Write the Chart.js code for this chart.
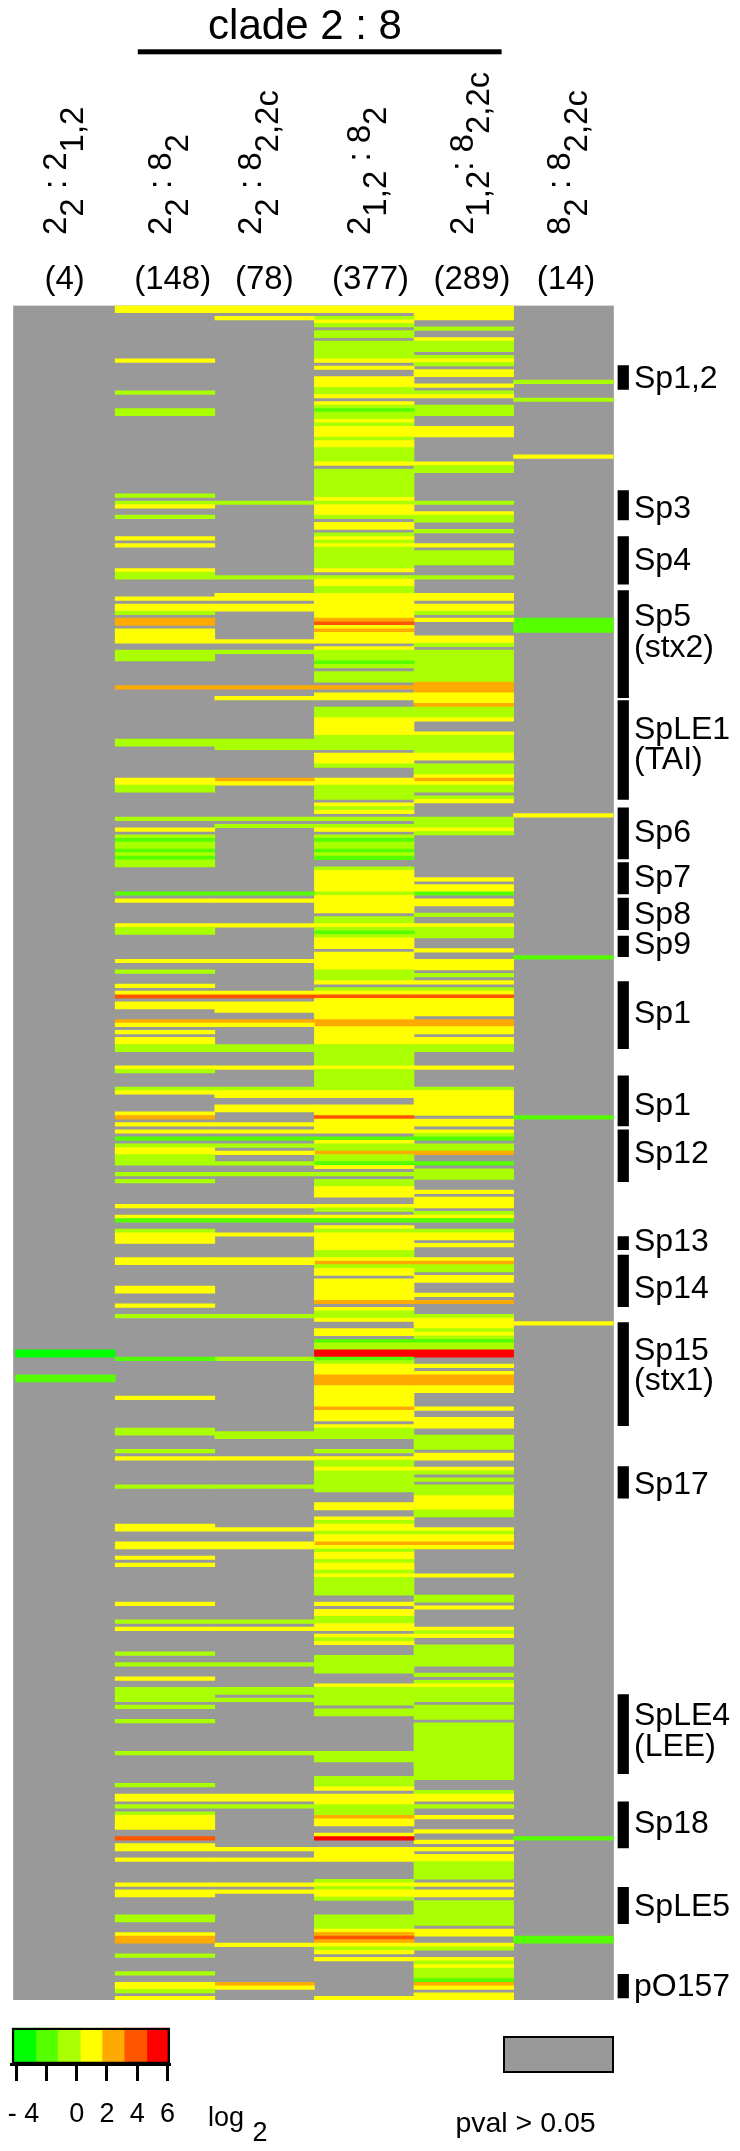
<!DOCTYPE html>
<html>
<head>
<meta charset="utf-8">
<title>clade 2 : 8</title>
<script src="https://cdn.jsdelivr.net/npm/chart.js@4/dist/chart.umd.min.js"></script>
<style>
  html, body { margin: 0; padding: 0; background: #fff; }
  #page { position: relative; width: 740px; height: 2151px; overflow: hidden; font-family: "Liberation Sans", Arial, sans-serif; }
  #page canvas { position: absolute; display: block; }
  #main { left: 0; top: 0; }
  #scale { left: 0; top: 2020px; }
  #txt { position: absolute; left: 0; top: 0; }
  #txt text { font-family: "Liberation Sans", Arial, sans-serif; fill: #000; white-space: pre; }
  #pbox { position: absolute; left: 503px; top: 2036px; width: 107px; height: 33px; background: #999; border: 2px solid #000; }
</style>
</head>
<body>
<div id="page">
  <canvas id="main" width="740" height="2151"></canvas>
  <canvas id="scale" width="200" height="131"></canvas>
  <div id="pbox"></div>
  <svg id="txt" width="740" height="2151" xmlns="http://www.w3.org/2000/svg"></svg>
</div>
<script>
const ROWS = 477;
const LEVELS = ["#00ff00","#55ff00","#aaff00","#ffff00","#ffaa00","#ff5500","#ff0000"];
const GRAY = "#999999";

// runs per column: [first row, last row, colour level 1-7]
const colA = [[294,295,1],[301,302,2]];
const colB = [[0,1,4],[15,15,4],[24,24,3],[29,30,3],[53,53,3],[55,55,3],[56,56,4],[59,59,3],[65,65,4],[67,67,4],[74,74,4],[75,76,3],[82,82,4],[84,85,4],[86,86,3],[88,89,5],[91,94,4],[97,99,3],[107,107,5],[122,123,3],[133,134,4],[135,136,3],[144,144,3],[147,147,4],[149,149,3],[150,150,2],[151,152,3],[153,153,2],[154,154,3],[155,155,2],[156,157,3],[165,165,2],[167,167,4],[174,174,4],[175,176,3],[184,184,4],[187,187,3],[191,191,4],[193,193,4],[194,194,6],[196,197,4],[201,201,5],[202,202,4],[204,204,4],[206,207,4],[208,209,3],[214,214,4],[215,215,3],[220,220,3],[221,221,4],[227,227,4],[228,228,5],[230,230,4],[232,232,4],[234,234,2],[236,236,3],[237,238,4],[239,241,3],[244,244,3],[246,246,3],[253,253,4],[256,256,4],[257,257,2],[260,260,3],[261,263,4],[268,269,4],[276,277,4],[281,281,4],[284,284,3],[296,296,2],[307,307,4],[316,317,3],[322,322,3],[324,324,4],[332,332,3],[343,344,4],[348,349,4],[352,352,4],[354,354,4],[365,365,4],[370,370,3],[372,372,4],[379,379,3],[382,382,3],[386,386,4],[389,392,3],[394,394,3],[398,398,3],[407,407,3],[416,416,3],[419,420,4],[422,422,3],[424,424,3],[425,428,4],[431,431,6],[433,434,4],[437,437,4],[444,444,4],[446,447,4],[453,454,3],[458,458,4],[459,460,5],[464,464,3],[469,469,3],[472,473,4],[474,474,3],[476,476,4]];
const colC = [[0,1,4],[3,3,4],[55,55,3],[76,76,3],[81,82,4],[84,85,4],[94,94,4],[97,97,3],[107,107,5],[110,110,4],[122,124,3],[133,133,5],[134,134,4],[144,144,3],[146,146,3],[165,165,2],[167,167,4],[174,174,4],[184,184,4],[193,193,4],[194,194,6],[196,198,4],[201,201,5],[202,202,4],[208,209,3],[214,214,4],[220,220,3],[221,222,4],[225,226,4],[230,230,4],[232,232,4],[234,234,2],[236,236,3],[238,238,4],[241,241,3],[244,244,3],[253,253,4],[256,256,4],[257,257,2],[261,261,4],[268,269,4],[284,284,3],[296,296,3],[317,318,3],[324,324,4],[332,332,3],[344,344,4],[348,349,4],[370,370,3],[372,372,4],[382,382,3],[389,390,3],[392,392,3],[407,407,3],[419,420,4],[422,422,3],[434,434,4],[437,437,4],[444,444,4],[446,446,4],[461,461,4],[472,472,5],[473,473,4]];
const colD = [[0,1,4],[3,3,3],[4,4,4],[5,5,3],[7,8,3],[10,14,3],[15,15,4],[17,17,4],[20,22,4],[23,24,3],[25,25,4],[27,27,4],[28,28,3],[29,29,2],[30,31,3],[32,32,4],[33,33,3],[34,36,4],[37,37,3],[38,39,4],[40,43,3],[44,44,4],[46,53,3],[54,54,4],[55,55,3],[56,58,4],[59,59,3],[61,62,4],[64,64,3],[65,65,4],[66,66,3],[67,67,4],[68,73,3],[74,74,4],[76,76,3],[77,78,4],[79,80,3],[81,87,4],[88,88,5],[89,89,6],[90,90,4],[91,91,5],[92,94,4],[96,96,4],[97,99,3],[100,100,2],[101,101,3],[103,105,3],[107,107,5],[109,110,4],[113,115,3],[116,120,4],[121,124,3],[126,128,4],[129,129,3],[133,134,4],[135,138,3],[140,140,4],[141,141,3],[142,142,4],[144,144,3],[146,146,3],[147,147,4],[149,149,3],[150,150,2],[151,152,3],[153,153,2],[154,154,3],[155,155,2],[158,158,3],[159,164,4],[165,165,3],[166,170,4],[172,173,3],[174,174,4],[175,175,3],[176,176,2],[177,177,3],[178,180,4],[182,186,4],[187,189,3],[190,190,4],[192,192,3],[193,193,4],[194,194,6],[195,200,4],[201,202,5],[203,207,4],[208,213,3],[214,214,4],[215,220,3],[221,222,4],[225,227,4],[228,228,6],[229,232,4],[234,234,2],[235,235,4],[236,237,3],[238,238,5],[239,240,3],[241,241,2],[242,242,4],[244,244,3],[246,247,3],[248,250,4],[253,253,4],[254,254,3],[256,256,4],[257,257,2],[259,259,4],[260,260,3],[261,265,4],[266,267,3],[268,268,4],[269,269,5],[270,270,3],[271,272,4],[274,279,4],[280,280,5],[282,282,4],[283,284,3],[285,285,4],[288,289,4],[291,291,2],[292,293,3],[294,295,7],[296,296,2],[297,297,3],[298,300,4],[301,303,5],[304,309,4],[310,310,5],[311,313,4],[315,315,4],[316,318,3],[322,322,3],[324,324,4],[325,326,3],[327,327,4],[328,333,3],[337,338,4],[341,341,4],[342,342,3],[343,344,4],[345,345,3],[346,347,4],[348,348,5],[349,349,4],[350,350,3],[351,352,4],[353,353,3],[354,355,4],[356,356,3],[357,357,4],[358,362,3],[365,365,4],[367,368,4],[369,370,3],[371,372,4],[374,374,4],[375,375,3],[376,376,4],[380,384,3],[388,388,4],[389,393,3],[395,396,3],[407,409,3],[414,416,3],[417,417,4],[419,421,4],[422,424,3],[425,425,5],[426,427,4],[430,430,4],[431,431,7],[434,437,4],[443,443,3],[444,444,4],[445,445,3],[446,447,4],[448,448,3],[453,456,3],[457,457,4],[458,458,5],[459,459,6],[460,460,5],[461,461,4],[462,462,3],[463,463,4],[465,465,4],[476,476,4]];
const colE = [[0,3,4],[6,6,3],[9,9,4],[10,12,3],[14,14,3],[15,15,4],[16,16,3],[18,19,4],[22,22,4],[24,24,3],[25,25,4],[28,30,3],[34,36,4],[44,44,4],[45,46,3],[55,55,3],[58,58,4],[59,60,3],[63,63,3],[67,67,4],[69,72,3],[76,76,3],[81,82,4],[84,85,4],[86,86,3],[88,88,4],[93,94,4],[95,95,3],[97,105,3],[106,108,5],[109,111,4],[112,112,5],[113,115,3],[116,116,4],[120,120,4],[121,125,3],[126,127,4],[129,131,3],[132,132,4],[133,133,5],[134,134,4],[135,136,3],[138,138,3],[139,139,4],[144,146,3],[147,147,4],[148,148,3],[161,161,4],[163,164,4],[165,165,2],[167,168,4],[171,171,3],[174,174,4],[175,177,3],[181,181,4],[184,186,4],[188,188,3],[190,190,4],[192,192,3],[193,193,4],[194,194,6],[195,199,4],[201,202,5],[203,204,4],[206,207,4],[208,209,3],[214,214,4],[220,220,3],[221,227,4],[229,230,4],[232,232,4],[233,233,3],[234,234,2],[236,237,3],[238,238,5],[241,241,2],[243,245,3],[249,249,4],[251,253,4],[255,255,3],[256,256,4],[257,257,2],[260,260,3],[261,262,4],[264,264,4],[268,268,4],[269,269,5],[270,271,3],[273,274,4],[278,278,4],[280,280,5],[284,284,3],[285,287,4],[288,288,3],[289,289,4],[290,290,3],[291,291,2],[292,293,3],[294,295,7],[298,298,4],[300,300,4],[301,303,5],[304,305,4],[310,310,4],[313,315,4],[318,321,3],[323,324,4],[327,327,4],[328,328,3],[330,330,3],[332,334,3],[335,338,4],[339,340,3],[344,344,4],[345,345,3],[346,347,4],[348,348,5],[349,349,4],[357,357,4],[363,364,3],[366,366,4],[372,372,4],[373,373,3],[374,374,4],[377,382,3],[385,385,3],[387,387,3],[388,388,4],[389,392,3],[394,397,3],[399,414,3],[418,418,3],[419,420,4],[422,422,3],[425,425,4],[429,429,4],[432,432,4],[434,434,4],[436,437,4],[438,442,3],[444,444,4],[446,447,4],[449,455,3],[457,458,4],[461,461,4],[462,462,3],[465,465,4],[466,466,3],[467,467,4],[468,470,3],[471,471,2],[472,472,5],[473,473,4],[475,476,4]];
const colF = [[21,21,3],[26,26,3],[42,42,4],[88,91,2],[143,143,4],[183,183,2],[228,228,2],[286,286,4],[431,431,2],[459,460,2]];
const columns = [colA, colB, colC, colD, colE, colF];

// [main, subscript] pieces of each column heading, sub = 1
const headA = [["2",0],["2",1],[" : ",0],["2",0],["1,2",1]];
const headB = [["2",0],["2",1],[" : ",0],["8",0],["2",1]];
const headC = [["2",0],["2",1],[" : ",0],["8",0],["2,2c",1]];
const headD = [["2",0],["1,2",1],[" : ",0],["8",0],["2",1]];
const headE = [["2",0],["1,2",1],[": ",0],["8",0],["2,2c",1]];
const headF = [["8",0],["2",1],[" : ",0],["8",0],["2,2c",1]];
const heads = [headA, headB, headC, headD, headE, headF];
const headX = [66, 171, 261, 369.5, 472.5, 570];
const counts = ["(4)","(148)","(78)","(377)","(289)","(14)"];
const countX = [64.7, 172.7, 264.3, 370.5, 472, 566];

// genomic regions, in rows
const regionStart = [16.9,52.1,65,80.2,111.2,141.4,156.8,166.8,177.5,190.3,216.8,232,262.1,267.3,286.3,326.8,391,421.2,445.3,469.8];
const regionEnd = [23.6,60.3,78.4,110.4,139,155.8,165.6,175.7,183.3,209.2,230.9,246.6,265.8,281.8,315.3,335.7,413.3,434.2,455.5,476.4];
const regionLabels = [["Sp1,2",388],["Sp3",517.7],["Sp4",570],["Sp5",625.7],["(stx2)",657],["SpLE1",739],["(TAI)",769],["Sp6",842],["Sp7",886.7],["Sp8",924],["Sp9",954],["Sp1",1023],["Sp1",1115],["Sp12",1163],["Sp13",1251],["Sp14",1297.7],["Sp15",1360],["(stx1)",1390],["Sp17",1494],["SpLE4",1725],["(LEE)",1755.7],["Sp18",1832.7],["SpLE5",1916],["pO157",1996]];

// colour scale
const scaleEdges = [-4.28,-2.69,-1.26,0.24,1.67,3.13,4.63,6.16];
const scaleTicks = [-4,-2,0,2,4,6];
const scaleTickLabels = ["  - 4","","0","2","4","6"];

const datasets = [];
datasets.push({ data: [{ x: 2.9895, y: [0, ROWS] }], backgroundColor: GRAY, barThickness: 600.3, order: 10 });
columns.forEach((runs, i) => {
  datasets.push({
    data: runs.map(r => ({ x: i + 0.5, y: [r[0], r[1] + 1] })),
    backgroundColor: runs.map(r => LEVELS[r[2] - 1]),
    barThickness: 99.6,
    order: 1,
  });
});
datasets.push({
  data: regionStart.map((s, i) => ({ x: 6.101, y: [s, regionEnd[i]] })),
  backgroundColor: "#000",
  barThickness: 10.6,
  order: 1,
});

new Chart(document.getElementById("main"), {
  type: "bar",
  data: { datasets },
  options: {
    responsive: false, animation: false, devicePixelRatio: 1,
    grouped: false,
    layout: { padding: { left: 13.2, top: 305.6, right: 7, bottom: 151 } },
    plugins: { legend: { display: false }, tooltip: { enabled: false } },
    scales: {
      x: { type: "linear", display: false, min: -0.0241, max: 7.2029, offset: false },
      y: { type: "linear", display: false, reverse: true, min: 0, max: ROWS },
    },
  },
});

const scaleSets = LEVELS.map((c, i) => ({
  data: [{ y: "log2", x: [scaleEdges[i], scaleEdges[i + 1]] }],
  backgroundColor: c,
  order: 2,
}));
scaleSets.push({
  data: [{ y: "log2", x: [scaleEdges[0], scaleEdges[7]] }],
  backgroundColor: "rgba(0,0,0,0)",
  borderColor: "#000",
  borderWidth: 2,
  borderSkipped: false,
  order: 1,
});

new Chart(document.getElementById("scale"), {
  type: "bar",
  data: { labels: ["log2"], datasets: scaleSets },
  options: {
    indexAxis: "y",
    responsive: false, animation: false, devicePixelRatio: 1,
    grouped: false,
    categoryPercentage: 1, barPercentage: 1,
    layout: { padding: { left: 11.8, right: 30, top: 7.7, bottom: 20 } },
    plugins: { legend: { display: false }, tooltip: { enabled: false } },
    scales: {
      x: {
        type: "linear", min: scaleEdges[0], max: scaleEdges[7],
        afterBuildTicks: ax => { ax.ticks = scaleTicks.map(v => ({ value: v })); },
        // axis is taller than half the canvas, layout would cut the labels otherwise
        afterFit: ax => { ax.paddingLeft = 0; ax.paddingRight = 0; ax.height = 67; },
        border: { color: "#000", width: 3 },
        grid: { drawOnChartArea: false, drawTicks: true, tickLength: 17, tickColor: "#000", tickWidth: 3 },
        ticks: {
          autoSkip: false, maxRotation: 0, padding: 17, color: "#000",
          font: { family: "Liberation Sans", size: 27 },
          callback: v => scaleTickLabels[scaleTicks.indexOf(v)],
        },
      },
      y: { display: false },
    },
  },
});

// ---- texts ----
const svg = document.getElementById("txt");
const NS = "http://www.w3.org/2000/svg";

function addText(str, x, y, size, anchor){
  const t = document.createElementNS(NS, "text");
  t.setAttribute("x", x);
  t.setAttribute("y", y);
  t.setAttribute("font-size", size);
  if (anchor) t.setAttribute("text-anchor", anchor);
  t.textContent = str;
  svg.appendChild(t);
  return t;
}

addText("clade 2 : 8", 305, 39.3, 42, "middle");
const rule = document.createElementNS(NS, "rect");
rule.setAttribute("x", 137.8); rule.setAttribute("y", 49.3);
rule.setAttribute("width", 363.8); rule.setAttribute("height", 5);
svg.appendChild(rule);

heads.forEach((parts, i) => {
  const t = addText("", 0, 0, 33);
  t.setAttribute("transform", `translate(${headX[i]},235) rotate(-90)`);
  let shift = 0;
  for (const [str, sub] of parts){
    const s = document.createElementNS(NS, "tspan");
    const want = sub ? 16.5 : 0;
    s.setAttribute("dy", want - shift);
    shift = want;
    s.textContent = str;
    t.appendChild(s);
  }
});

counts.forEach((c, i) => addText(c, countX[i], 288.5, 33, "middle"));
regionLabels.forEach(([str, y]) => addText(str, 634, y, 32));

addText("log", 208, 2126, 27);
addText("2", 252.5, 2140.7, 27);
addText("pval > 0.05", 455.4, 2131.7, 28.5);
</script>
</body>
</html>
